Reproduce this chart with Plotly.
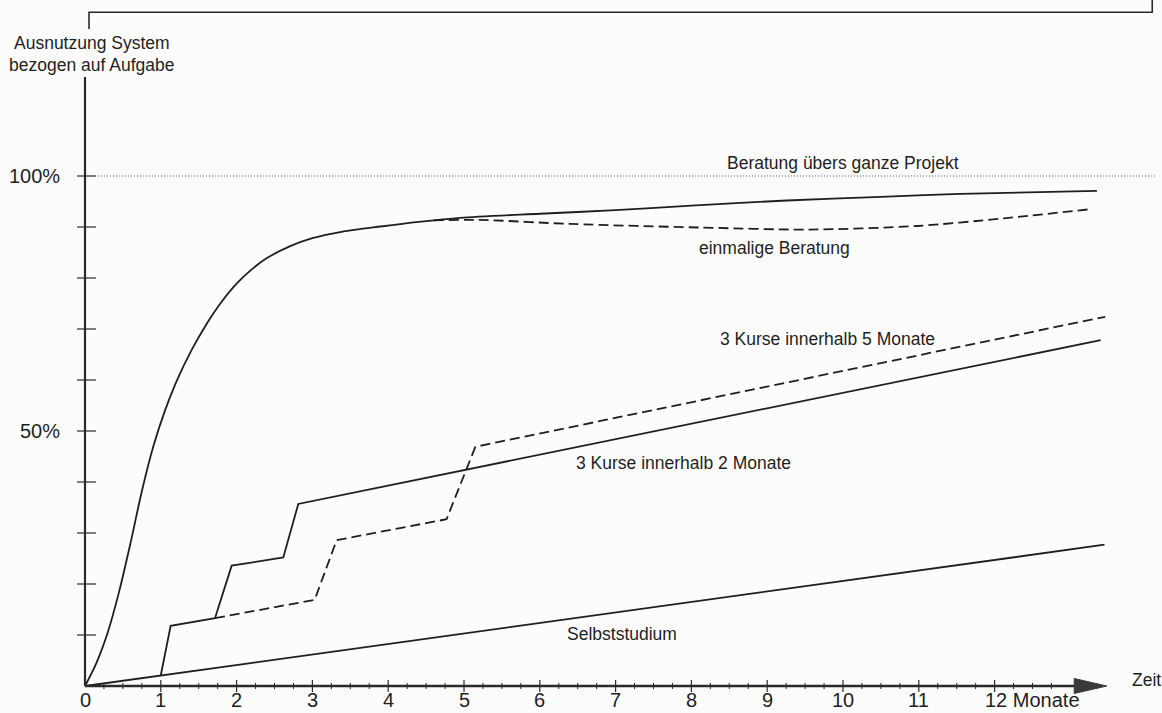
import plotly.graph_objects as go

# ---- data (months, percent) ----
beratung_x = [0, 0.15, 0.3, 0.45, 0.6, 0.75, 0.9, 1.05, 1.2, 1.4, 1.6, 1.8, 2.0, 2.2, 2.4, 2.7, 3.0, 3.4, 3.9, 4.4, 4.95, 6.0, 7.0, 8.0, 9.26, 10.5, 11.55, 13.35]
beratung_y = [0, 4.5, 10.5, 18.5, 28.0, 38.2, 46.9, 53.8, 59.5, 65.7, 70.9, 75.3, 78.9, 81.7, 83.9, 86.2, 87.8, 89.1, 90.1, 91.0, 91.8, 92.6, 93.3, 94.2, 95.2, 95.9, 96.5, 97.1]

einmalig_x = [4.6, 5.2, 6.4, 8.11, 9.55, 10.98, 12.12, 13.27]
einmalig_y = [91.3, 91.4, 90.6, 89.9, 89.5, 90.2, 91.7, 93.5]

kurse2_x = [1.0, 1.13, 1.715, 1.935, 2.616, 2.814, 13.40]
kurse2_y = [2.1, 11.8, 13.3, 23.6, 25.2, 35.7, 67.8]

kurse5_x = [1.715, 3.03, 3.32, 4.77, 5.15, 13.46]
kurse5_y = [13.3, 16.9, 28.6, 32.7, 46.9, 72.4]

selbst_x = [0, 13.45]
selbst_y = [0, 27.7]

x_major = list(range(1, 13))
x_labels = ["0", "1", "2", "3", "4", "5", "6", "7", "8", "9", "10", "11", "12 Monate"]
y_major = [10, 20, 30, 40, 50, 60, 70, 80, 90, 100]
y_labels = {100: "100%", 50: "50%"}

INK = "#1f1f1f"
FONT = "Liberation Sans, Arial, sans-serif"

fig = go.Figure()

def line(x, y, dash=None, smooth=False):
    fig.add_trace(go.Scatter(
        x=x, y=y, mode="lines",
        line=dict(color=INK, width=1.8, dash=dash,
                  shape="spline" if smooth else "linear",
                  smoothing=0.8 if smooth else None),
        hoverinfo="skip", showlegend=False))

line(beratung_x, beratung_y, smooth=True)
line(einmalig_x, einmalig_y, dash="10px,5px", smooth=True)
line(kurse2_x, kurse2_y)
line(kurse5_x, kurse5_y, dash="10px,5px")
line(selbst_x, selbst_y)

shapes = []
# axes
shapes.append(dict(type="line", x0=0, x1=0, y0=0, y1=119.4, line=dict(color="#2a2a2a", width=2.2)))
shapes.append(dict(type="line", x0=0, x1=13.1, y0=0, y1=0, line=dict(color="#2a2a2a", width=2.6)))
# arrow head
shapes.append(dict(type="path", path="M 13.05 1.47 L 13.48 0 L 13.05 -1.47 Z",
                   fillcolor="#3a3a3a", line=dict(color="#3a3a3a", width=1)))
# x ticks
for m in x_major:
    shapes.append(dict(type="line", x0=m, x1=m, y0=-1.2, y1=1.2, line=dict(color="#2a2a2a", width=1.2)))
for i in range(0, 52):
    q = i * 0.25
    if q == int(q):
        continue
    shapes.append(dict(type="line", x0=q, x1=q, y0=-0.6, y1=0.6, line=dict(color="#2a2a2a", width=1)))
# y ticks
for p in y_major:
    shapes.append(dict(type="line", x0=-0.105, x1=0.145, y0=p, y1=p, line=dict(color="#2a2a2a", width=1.2)))
# 100% dotted line
shapes.append(dict(type="line", x0=0.17, x1=14.14, y0=100, y1=100,
                   line=dict(color="#555555", width=1.1, dash="1px,2px")))
# top bracket
shapes.append(dict(type="path", path="M 0.053 128.8 L 0.053 132.1 L 14.08 132.1 L 14.08 134.6",
                   line=dict(color="#2a2a2a", width=1.6)))

fig.update_layout(shapes=shapes)

ann = []
def text(t, x, y, size=17.5, xanchor="center", xshift=0, yanchor="middle"):
    ann.append(dict(text=t, x=x, y=y, xref="x", yref="y", showarrow=False,
                    xanchor=xanchor, yanchor=yanchor, xshift=xshift,
                    font=dict(family=FONT, size=size, color=INK)))

Y_BOTTOM = -(713 - 686) / 5.1
for i, lab in enumerate(x_labels):
    if i == 12:
        text(lab, i, Y_BOTTOM, size=20, xanchor="left", xshift=-12, yanchor="bottom")
    else:
        text(lab, i, Y_BOTTOM, size=20, yanchor="bottom")
for p, lab in y_labels.items():
    text(lab, -0.303, p, size=20, xanchor="right")

text("Ausnutzung System", 0.092, 126.1)
text("bezogen auf Aufgabe", 0.092, 121.8)
text("Zeit", 14.0, 1.18)
text("Beratung übers ganze Projekt", 10.0, 102.5)
text("einmalige Beratung", 9.10, 85.9)
text("3 Kurse innerhalb 5 Monate", 9.80, 68.0)
text("3 Kurse innerhalb 2 Monate", 7.89, 43.7)
text("Selbststudium", 7.08, 10.2)

fig.update_layout(
    annotations=ann,
    width=1162, height=713, autosize=False,
    margin=dict(l=0, r=0, t=0, b=0),
    paper_bgcolor="#fcfcfc", plot_bgcolor="#fcfcfc",
    xaxis=dict(range=[-85 / 75.8, (1162 - 85) / 75.8], visible=False, fixedrange=True),
    yaxis=dict(range=[Y_BOTTOM, 686 / 5.1], visible=False, fixedrange=True),
    showlegend=False,
)

fig.write_html("out.html",
               config={"displayModeBar": False},
               post_script="document.body.style.margin='0';document.body.style.overflow='hidden';")
